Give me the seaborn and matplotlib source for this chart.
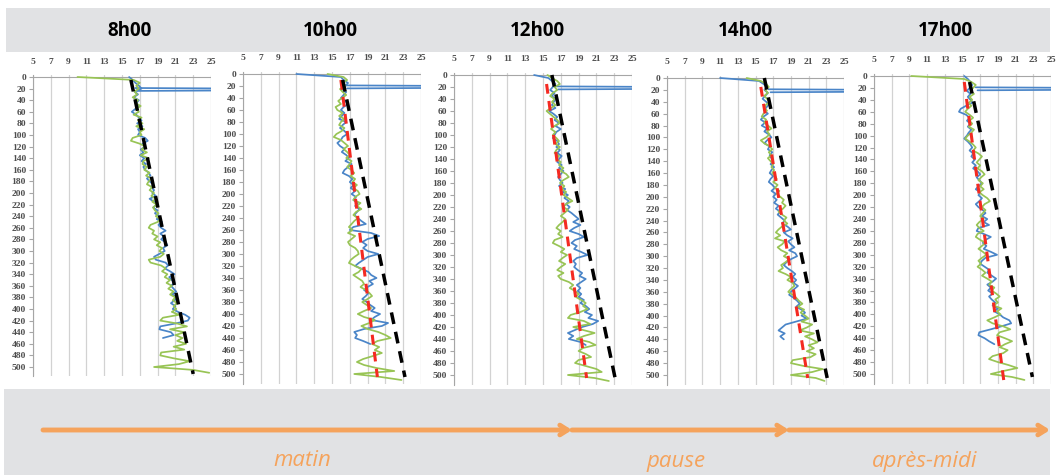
import seaborn as sns
import matplotlib.pyplot as plt
from matplotlib.patches import Rectangle

sns.set_style('white')
plt.rcParams['font.family'] = ['Open Sans', 'DejaVu Sans']

W, H = 1057, 475

titles = ['8h00', '10h00', '12h00', '14h00', '17h00']
period_labels = ['matin', 'pause', 'après-midi']

# depth (m), one reading every 5 m
depth = list(range(0, 515, 5))
depth_blue = list(range(0, 455, 5))
# the blue probe jumps off scale around 20 m in every profile
spike_depth = [19, 20, 23, 24]
spike_temp = [16.5, 30, 30, 16.7]

green_8h = [10.0, 16.3, 17.0, 16.6, 16.9, 16.4, 16.7, 16.2, 16.8, 16.5,
            17.1, 16.6, 16.9, 16.3, 17.2, 16.8, 17.3, 16.6, 17.5, 17.0,
            17.2, 16.2, 16.0, 17.0, 17.6, 17.2, 17.8, 17.1, 18.0, 17.4,
            17.3, 17.8, 17.5, 18.1, 17.7, 18.3, 18.0, 17.8, 18.4, 18.1,
            18.6, 18.3, 18.8, 18.4, 18.9, 18.5, 18.7, 19.1, 18.8, 19.3,
            19.0, 18.2, 18.0, 18.6, 18.4, 19.0, 18.6, 19.3, 18.9, 19.5,
            19.2, 19.7, 19.3, 18.0, 18.2, 19.4, 19.9, 19.5, 20.1, 19.8,
            20.4, 20.0, 20.6, 20.2, 20.8, 20.4, 21.0, 20.7, 21.2, 20.8,
            21.1, 20.6, 21.4, 19.6, 19.3, 21.2, 22.3, 20.4, 22.0, 21.0,
            21.8, 21.2, 22.2, 20.8, 22.0, 19.4, 19.3, 20.8, 22.6, 21.4,
            18.6, 23.0, 24.8]
blue_8h = [15.8, 16.2, 16.5, 16.9, 17.2, 16.4, 16.8, 16.3, 16.9, 16.6,
           16.9, 16.5, 16.1, 16.6, 16.9, 17.2, 16.7, 17.3, 16.8, 17.0,
           16.8, 17.6, 17.9, 17.3, 17.6, 17.1, 17.4, 17.0, 17.5, 17.2,
           17.7, 17.4, 17.6, 18.0, 18.2, 17.8, 18.1, 18.5, 18.3, 18.6,
           18.4, 18.8, 18.1, 18.6, 18.9, 18.5, 19.0, 18.7, 19.2, 18.9,
           19.5, 19.1, 19.4, 19.9, 19.3, 19.7, 19.4, 19.9, 20.1, 19.6,
           19.8, 19.2, 18.6, 18.8, 19.9, 20.2, 19.8, 20.4, 20.9, 20.3,
           20.6, 20.9, 20.5, 20.8, 21.1, 20.6, 21.2, 20.9, 20.5, 21.0,
           20.7, 21.3, 22.1, 22.6, 22.4, 21.0, 19.3, 19.2, 20.5, 20.8,
           19.6]

green_10h = [14.5, 16.3, 16.7, 16.2, 16.5, 15.9, 16.2, 16.6, 16.1, 15.7,
             16.0, 15.4, 15.6, 16.2, 15.8, 16.4, 16.0, 15.8, 16.4, 16.1,
             15.5, 15.2, 16.0, 16.4, 16.8, 16.3, 16.7, 17.0, 16.6, 17.2,
             17.0, 16.7, 17.2, 17.5, 17.1, 17.6, 17.3, 17.8, 17.4, 17.9,
             18.1, 17.6, 17.4, 18.2, 17.8, 18.3, 17.7, 17.4, 17.9, 17.5,
             17.2, 16.9, 17.3, 16.8, 17.6, 17.2, 16.8, 17.0, 17.6, 17.9,
             18.0, 17.5, 17.1, 16.9, 17.6, 18.3, 18.0, 17.4, 17.9, 18.4,
             18.6, 18.2, 18.8, 19.2, 19.5, 19.0, 18.4, 18.9, 19.4, 18.6,
             17.9, 18.6, 19.8, 19.2, 18.3, 19.0, 20.2, 21.0, 21.6, 20.1,
             19.5, 20.3, 19.8, 20.6, 19.6, 18.5, 17.8, 18.6, 20.0, 22.0,
             17.5, 20.5, 22.8]
blue_10h = [11.0, 16.0, 16.3, 16.8, 16.5, 16.1, 16.6, 16.3, 16.0, 16.5,
            16.8, 16.3, 16.0, 16.4, 16.1, 15.8, 16.6, 16.2, 15.9, 16.4,
            16.7, 16.2, 16.0, 15.6, 15.9, 16.4, 16.1, 16.6, 16.9, 16.5,
            17.2, 16.8, 16.4, 16.2, 16.9, 17.3, 17.0, 17.4, 17.1, 17.6,
            17.2, 17.7, 17.4, 17.9, 17.6, 18.1, 17.8, 17.5, 17.9, 18.3,
            18.8, 17.4, 17.0, 19.4, 20.3, 19.0, 18.4, 18.9, 18.5, 19.0,
            20.2, 19.0, 18.5, 18.0, 17.6, 18.4, 19.1, 19.4, 20.0, 19.2,
            19.6, 19.0, 18.6, 19.1, 18.8, 18.4, 18.9, 19.3, 19.8, 19.4,
            20.4, 19.8, 19.4, 21.3, 20.6, 18.6, 17.5, 17.8, 17.6, 18.5,
            19.3]

green_12h = [15.5, 16.0, 16.6, 16.9, 16.3, 16.6, 16.1, 15.8, 16.3, 16.0,
             16.4, 15.9, 15.4, 15.8, 16.2, 16.6, 16.9, 16.3, 15.9, 16.4,
             16.1, 16.5, 16.8, 16.4, 16.9, 16.5, 16.3, 16.8, 16.5, 17.0,
             16.8, 17.3, 17.0, 17.6, 17.9, 17.3, 16.9, 17.4, 17.1, 17.6,
             17.3, 17.8, 18.3, 17.6, 17.3, 17.8, 17.4, 17.0, 17.5, 17.2,
             16.8, 16.5, 17.0, 16.7, 17.2, 16.3, 16.1, 16.8, 17.4, 17.0,
             17.7, 17.2, 16.8, 17.5, 17.0, 16.6, 17.3, 16.7, 17.0, 17.9,
             18.4, 18.0, 18.6, 19.0, 18.7, 19.3, 19.8, 19.5, 20.0, 19.2,
             18.1, 17.8, 19.6, 20.3, 18.4, 19.5, 20.8, 19.6, 18.8, 20.2,
             20.9, 19.5, 19.0, 19.8, 20.4, 19.0, 18.6, 19.8, 21.0, 21.6,
             17.8, 20.8, 22.4]
blue_12h = [14.0, 15.6, 16.0, 16.4, 16.1, 15.8, 16.3, 16.0, 16.4, 16.2,
            16.0, 16.4, 15.7, 16.2, 16.6, 16.3, 16.8, 16.4, 17.0, 16.5,
            16.3, 16.1, 16.6, 16.8, 16.5, 16.9, 16.6, 17.1, 16.8, 16.6,
            17.1, 16.8, 17.3, 17.0, 16.7, 16.9, 17.2, 16.8, 17.5, 17.2,
            17.8, 17.4, 17.9, 17.6, 18.0, 17.7, 18.2, 18.6, 19.0, 18.4,
            19.2, 18.5, 18.0, 19.0, 19.6, 18.6, 18.2, 18.8, 18.5, 19.3,
            20.0, 18.8, 18.4, 18.7, 18.5, 18.9, 19.4, 19.1, 19.8, 19.3,
            18.8, 19.2, 18.9, 19.3, 19.0, 19.6, 19.2, 19.8, 20.2, 19.7,
            20.5, 20.1, 21.2, 20.6, 19.4, 18.6, 17.8, 18.4, 17.9, 19.2,
            19.8]

green_14h = [14.0, 15.6, 16.2, 16.5, 16.1, 16.4, 16.0, 16.3, 16.6, 16.2,
             16.0, 16.3, 15.9, 15.7, 16.2, 16.0, 16.4, 16.8, 16.3, 16.6,
             16.2, 15.6, 16.0, 16.6, 16.9, 16.5, 16.8, 16.4, 16.7, 17.0,
             16.8, 17.1, 16.9, 17.2, 17.4, 17.0, 17.5, 17.2, 17.7, 17.4,
             17.8, 18.2, 18.0, 18.4, 18.1, 17.6, 18.0, 18.5, 18.2, 18.6,
             18.0, 17.6, 17.3, 17.8, 17.2, 18.3, 18.0, 17.5, 17.9, 18.6,
             18.2, 18.8, 18.4, 17.9, 18.1, 17.6, 18.4, 19.0, 18.6, 19.2,
             19.4, 19.0, 18.7, 19.2, 19.6, 19.9, 20.3, 19.8, 20.5, 20.1,
             20.6, 21.0, 20.2, 21.4, 20.8, 20.0, 21.6, 20.6, 21.4, 22.0,
             21.0, 21.6, 20.8, 21.8, 21.2, 19.2, 19.0, 20.5, 22.6, 21.4,
             19.0, 21.8, 22.8]
blue_14h = [11.0, 15.4, 15.9, 16.3, 16.0, 16.4, 16.1, 15.8, 16.2, 16.5,
            16.2, 16.0, 16.4, 15.9, 15.6, 16.1, 15.7, 16.3, 16.0, 16.5,
            16.8, 16.3, 16.0, 16.6, 16.4, 16.9, 16.6, 16.8, 17.0, 16.7,
            17.1, 16.8, 16.6, 17.0, 16.7, 16.5, 16.9, 17.2, 16.8, 17.3,
            17.0, 17.4, 17.1, 17.6, 17.3, 17.8, 17.5, 17.9, 18.3, 18.0,
            18.6, 19.0, 18.2, 18.6, 19.2, 18.7, 19.0, 19.4, 18.8, 19.5,
            19.7, 19.0, 18.5, 18.2, 18.6, 19.1, 19.5, 19.2, 19.6, 19.3,
            19.8, 19.4, 19.0, 18.8, 19.3, 19.7, 20.0, 19.6, 20.2, 20.6,
            20.2, 20.8, 19.6, 18.4, 18.0, 17.6, 18.3, 17.8, 18.2]

green_17h = [9.2, 15.2, 16.0, 16.5, 16.2, 15.9, 16.3, 15.8, 16.1, 15.7,
             16.0, 15.6, 15.3, 15.8, 16.2, 15.8, 16.1, 15.7, 16.3, 16.0,
             15.6, 15.3, 15.8, 16.2, 16.5, 16.2, 16.8, 17.2, 16.9, 16.6,
             17.0, 16.7, 17.2, 17.5, 17.1, 16.8, 17.3, 17.0, 17.4, 16.9,
             17.3, 17.8, 18.1, 17.5, 17.2, 17.6, 17.3, 17.0, 17.4, 16.9,
             16.6, 16.9, 17.4, 16.7, 16.5, 17.0, 17.6, 17.2, 16.8, 17.3,
             17.7, 17.2, 16.8, 17.1, 16.7, 17.2, 17.6, 17.2, 17.8, 18.3,
             18.0, 18.6, 18.3, 18.8, 19.2, 18.7, 19.0, 18.5, 19.4, 18.9,
             19.3, 18.6, 17.8, 18.4, 19.6, 20.4, 19.2, 18.9, 19.8, 20.6,
             19.8, 19.2, 20.1, 19.6, 18.4, 18.0, 19.0, 20.2, 21.2, 19.6,
             18.2, 20.6, 22.0]
blue_17h = [15.2, 15.6, 15.9, 16.1, 15.8, 15.5, 15.9, 15.6, 15.9, 16.1,
            15.4, 14.8, 14.6, 15.4, 15.8, 15.5, 15.9, 15.6, 16.0, 15.7,
            15.5, 15.2, 15.6, 15.9, 16.1, 15.8, 16.2, 16.0, 16.4, 16.1,
            16.5, 16.2, 16.7, 17.0, 16.6, 16.9, 17.2, 16.8, 16.5, 17.0,
            16.8, 17.2, 16.9, 16.5, 16.8, 17.3, 17.6, 17.2, 17.8, 17.4,
            18.0, 16.8, 16.6, 17.4, 18.2, 17.6, 17.3, 17.7, 17.4, 18.2,
            18.9, 17.6, 17.2, 17.0, 17.5, 18.0, 17.8, 18.3, 18.8, 18.4,
            17.8, 18.2, 17.9, 18.4, 18.0, 18.3, 18.7, 18.4, 19.0, 18.6,
            19.2, 19.6, 20.3, 20.5, 19.4, 18.2, 16.9, 16.8, 17.5, 18.0,
            18.6]

greens = [green_8h, green_10h, green_12h, green_14h, green_17h]
blues = [blue_8h, blue_10h, blue_12h, blue_14h, blue_17h]

# reference gradient (black) and fitted trend (red): [top, bottom]
black_temp = [[16.0, 23.0], [16.2, 23.2], [16.0, 23.1], [16.0, 23.1], [15.8, 22.9]]
black_depth = [[5, 512], [10, 505], [0, 505], [0, 505], [10, 505]]
red_temp = [None, [16.0, 20.1], [15.4, 19.9], [15.6, 20.9], [15.2, 19.7]]
red_depth = [None, [10, 505], [15, 505], [15, 505], [10, 515]]

# panel placement in pixels: x of 5 degC, x of 25 degC, y of 0 m, y of 500 m
panel_px = [(33, 211, 77, 367), (243, 421, 74, 374), (454, 632, 75, 375),
            (667, 844, 78, 375), (874, 1051, 76, 374)]
title_x = [130, 330, 537, 745, 945]

fig = plt.figure(figsize=(W / 100, H / 100), dpi=100)

bg = fig.add_axes([0, 0, 1, 1], zorder=-1)
bg.set_xlim(0, W)
bg.set_ylim(H, 0)
bg.axis('off')
bg.add_patch(Rectangle((6, 8), 1044, 44, color='#e1e2e4', lw=0))
bg.add_patch(Rectangle((4, 389), 1046, 86, color='#e1e2e4', lw=0))
for t, x in zip(titles, title_x):
    bg.text(x, 31, t, ha='center', va='center', fontsize=13.5, fontweight='bold', color='black')

orange = '#f5a35c'
arrow_x = [43, 572, 789, 1050]
for x0, x1 in zip(arrow_x[:-1], arrow_x[1:]):
    bg.annotate('', xy=(x1, 430), xytext=(x0, 430),
                arrowprops=dict(arrowstyle='->,head_length=0.55,head_width=0.35',
                                lw=3.5, color=orange, shrinkA=0, shrinkB=0))
for lab, x in zip(period_labels, [302, 676, 925]):
    bg.text(x, 461, lab, ha='center', va='center', fontsize=16, style='italic', color=orange)

blue_c = '#4a85c8'
green_c = '#98c455'
top, bottom = -3, 516
for i in range(5):
    x5, x25, y0, y500 = panel_px[i]
    s = (y500 - y0) / 500
    top_px = y0 + top * s
    bot_px = y0 + bottom * s
    ax = fig.add_axes([x5 / W, 1 - bot_px / H, (x25 - x5) / W, (bot_px - top_px) / H])

    sns.lineplot(x=blues[i], y=depth_blue[:len(blues[i])], sort=False, estimator=None,
                 color=blue_c, lw=1.25, ax=ax)
    sns.lineplot(x=spike_temp, y=spike_depth, sort=False, estimator=None,
                 color=blue_c, lw=1.25, ax=ax)
    sns.lineplot(x=greens[i], y=depth, sort=False, estimator=None,
                 color=green_c, lw=1.25, ax=ax)
    if red_temp[i] is not None:
        sns.lineplot(x=red_temp[i], y=red_depth[i], sort=False, estimator=None,
                     color='#f42a22', lw=2.2, linestyle=(0, (3.2, 2.4)), ax=ax)
    sns.lineplot(x=black_temp[i], y=black_depth[i], sort=False, estimator=None,
                 color='black', lw=2.5, linestyle=(0, (3.4, 2.3)), ax=ax)

    ax.axhline(0, color='#a6a6a6', lw=0.8, zorder=1)
    ax.set_xlim(5, 25)
    ax.set_ylim(bottom, top)
    ax.set_xticks(range(5, 26, 2))
    ax.set_yticks(range(0, 501, 20))
    ax.xaxis.tick_top()
    ax.grid(axis='x', color='#d2d2d2', lw=0.9)
    ax.set_axisbelow(True)
    for side in ['top', 'right', 'bottom']:
        ax.spines[side].set_visible(False)
    ax.spines['left'].set_color('#a6a6a6')
    ax.spines['left'].set_linewidth(0.8)
    ax.tick_params(axis='x', length=0, pad=7, labelsize=6.8, labelcolor='#4d4d4d')
    ax.tick_params(axis='y', left=True, length=3, width=0.8, color='#a6a6a6', pad=2,
                   labelsize=6.8, labelcolor='#4d4d4d')
    for lab in ax.get_xticklabels() + ax.get_yticklabels():
        lab.set_family('Liberation Serif')
        lab.set_weight('bold')
    ax.set_xlabel('')
    ax.set_ylabel('')

fig.savefig('out.png', dpi=100)
